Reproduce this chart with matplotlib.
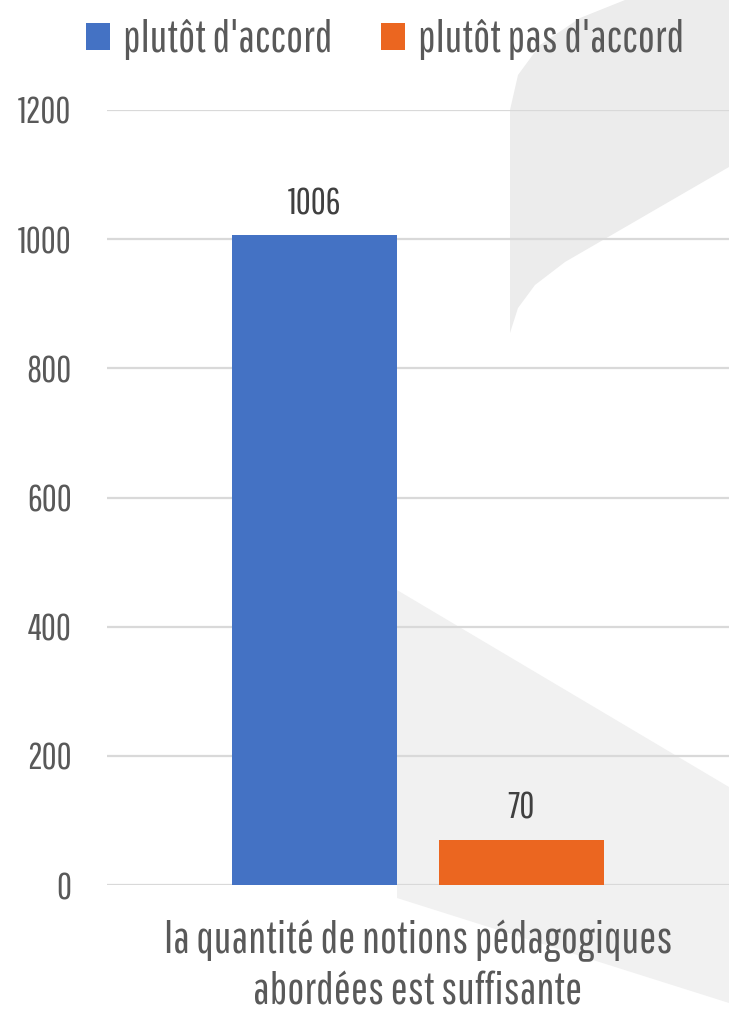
import matplotlib
matplotlib.use("Agg")
import matplotlib.pyplot as plt
from matplotlib.patches import Polygon

plt.rcParams['font.family'] = ['Pathway Gothic One', 'DejaVu Sans']

# --- Data ---
category = "la quantité de notions pédagogiques\nabordées est suffisante"
series = ["plutôt d'accord", "plutôt pas d'accord"]
values = [1006, 70]
colors = ["#4472C4", "#EB6620"]
yticks = [0, 200, 400, 600, 800, 1000, 1200]

W, H = 729, 1023
TEXT = "#595959"
GRID = "#D9D9D9"


def px(x, y):
    # pixel position (from top-left) -> figure fraction
    return (x / W, 1 - y / H)


fig = plt.figure(figsize=(W / 100, H / 100), dpi=100)
fig.patch.set_facecolor("white")

# faint background shapes
top_shape = [px(510, 333), px(510, 110), px(518, 75), px(540, 45), px(580, 18), px(625, 0),
             px(729, 0), px(729, 167), px(565, 262), px(535, 285), px(518, 308)]
band = [px(397, 590), px(729, 787), px(729, 1003), px(397, 898)]
for pts, c in [(top_shape, "#ECECEC"), (band, "#F1F1F1")]:
    fig.patches.append(Polygon(pts, closed=True, transform=fig.transFigure,
                               facecolor=c, edgecolor="none", zorder=0))

l, r = 107, 729
t, b = 110, 885
ax = fig.add_axes([l / W, 1 - b / H, (r - l) / W, (b - t) / H], zorder=2)
ax.set_facecolor("none")

width = 0.265
offsets = [-0.166, 0.166]
bars = []
for name, v, c, off in zip(series, values, colors, offsets):
    bar = ax.bar(off, v, width, color=c, label=name, zorder=3)
    bars.append(bar)
    ax.annotate(str(v), (off, v), xytext=(0, 15), textcoords="offset points",
                ha="center", va="baseline", fontsize=26.5, color="#404040")

ax.set_xlim(-0.5, 0.5)
ax.set_ylim(0, 1200)
ax.set_yticks(yticks)
ax.set_yticklabels([str(v) for v in yticks])
ax.set_xticks([0])
ax.set_xticklabels([category], linespacing=1.28)
ax.tick_params(axis="y", length=0, pad=25.5, labelsize=26.5, labelcolor=TEXT)
ax.tick_params(axis="x", length=0, pad=25, labelsize=32.6, labelcolor=TEXT)
for s in ax.spines.values():
    s.set_visible(False)
ax.yaxis.grid(True, color=GRID, linewidth=1.6, zorder=0)
ax.set_axisbelow(True)

fig.legend(handles=[bb[0] for bb in bars], labels=series, loc="center",
           bbox_to_anchor=(385 / W, 1 - 40 / H), ncol=2, frameon=False,
           fontsize=32.5, labelcolor=TEXT, handlelength=0.53, handleheight=0.53,
           handletextpad=0.29, columnspacing=1.07)

fig.savefig("out.png", dpi=100)
